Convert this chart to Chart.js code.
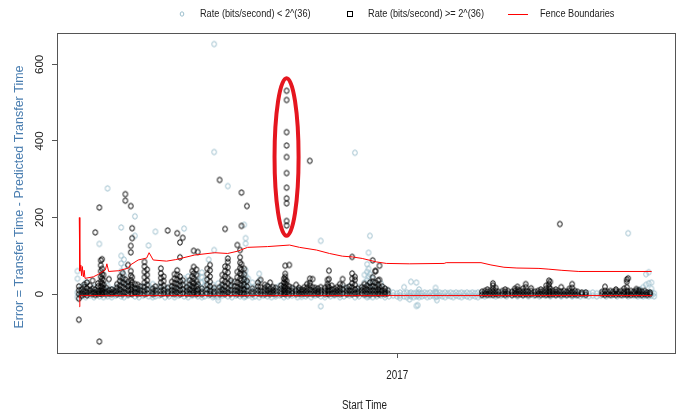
<!DOCTYPE html>
<html>
<head>
<meta charset="utf-8">
<script src="https://cdn.jsdelivr.net/npm/chart.js@4.4.1/dist/chart.umd.min.js"></script>
<style>
html, body { margin: 0; padding: 0; background: #fff; }
canvas { display: block; }
</style>
</head>
<body>
<canvas id="fenceChart" width="681" height="412"></canvas>
<script>
// start time = days from 1 Jan 2017, error = transfer time - predicted (s)
// each entry: [day, [errors recorded that day]]
const lowRate = [
  [-234, [-8, 4, 40, 60]], [-231, [-6, 2, 20]], [-228, [-8, 6, 30]], [-225, [-4, 10]],
  [-222, [-8, 4, 18]], [-218, [-6, 6, 131]], [-215, [-8, 2, 14]], [-212, [-6, 8, 22, 276]],
  [-209, [-8, 4, 12]], [-206, [-4, 8, 18]], [-202, [-6, 6, 20, 40, 60, 80, 100, 174]],
  [-200, [-8, 4, 30, 50, 70, 90]], [-197, [-4, 10, 24]], [-192, [-6, 6, 16, 152, 203]],
  [-189, [-8, 4, 12]], [-186, [-4, 8, 20]], [-182, [-6, 6, 22, 127]], [-179, [-8, 2, 12, 26]],
  [-177, [-6, 6, 163]], [-174, [-4, 10, 20]], [-170, [-8, 4, 14]], [-167, [-6, 6, 18]],
  [-163, [-8, 2, 12]], [-160, [-4, 10, 26]], [-156, [-6, 6, 20, 40, 171]], [-153, [-8, 4, 16, 30, 46]],
  [-150, [-4, 8, 18]], [-146, [-6, 6, 20, 34, 48]], [-143, [-8, 4, 16, 30, 44, 56]],
  [-141, [-6, 10, 22, 36]], [-138, [-4, 6, 18, 90]], [-135, [-8, 4, 12, 24]],
  [-134, [-6, 8, 115, 371, 653]], [-131, [-16, -8, 2, 14, 28]], [-128, [-4, 8, 20]],
  [-124, [-6, 6, 282]], [-121, [-8, 4, 16, 30]], [-118, [-4, 10]], [-115, [-6, 6, 18]],
  [-112, [-8, 4, 14, 28, 42, 181]], [-111, [-6, 8, 20, 34, 48, 62, 132, 146]],
  [-109, [-4, 10, 24, 40]], [-106, [-8, 6, 18, 30]], [-104, [-6, 4, 14]], [-101, [-8, 8, 35, 53]],
  [-98, [-4, 6]], [-95, [-6, 10, 20]], [-92, [-8, 4]], [-89, [-6, 8, 16]], [-86, [-4, 6, 22]],
  [-83, [-8, 4, 12]], [-80, [-6, 8]], [-77, [-4, 6, 14]], [-73, [-8, 4, 12]], [-70, [-7, 8]],
  [-67, [-6, 4]], [-63, [-8, 6]], [-60, [-4, 10]], [-56, [-32, -6, 6, 139]], [-53, [-8, 4]],
  [-49, [-6, 8]], [-46, [-4, 6]], [-42, [-8, 4]], [-39, [-6, 8, 16]], [-35, [-4, 6, 20]],
  [-31, [-8, 4, 369]], [-28, [-6, 8, 18]], [-24, [-4, 10, 30, 50]], [-22, [-8, 6, 36, 58, 78]],
  [-21, [-6, 20, 45, 66, 108]], [-20, [-4, 12, 30, 52, 152]], [-18, [-8, 6, 24, 40]],
  [-15, [-6, 8, 20]], [-12, [-4, 6, 28]], [-9, [-8, 4, 14]], [-6, [-6, 8]], [-3, [-4, 4]],
  [0, [-6, 2]], [2, [-10, -4, 4]], [5, [-6, 2, 18]], [7, [-8, 4]], [9, [-14, -4, 2]],
  [10, [-6, 4, 32]], [12, [-8, 2]], [14, [-31, -6, 4, 30]], [15, [-29, -4, 2]], [16, [-8, 4, 12]],
  [18, [-6, 2]], [20, [-4, 4]], [22, [-8, 2]], [24, [-6, 4]], [26, [-4, 2]], [28, [-8, 4, 6, 16]],
  [29, [-16, -6, 2]], [31, [-4, 4]], [33, [-6, 2]], [35, [-8, 4]], [37, [-4, 2]], [39, [-6, 4]],
  [41, [-8, 2]], [43, [-4, 4]], [45, [-6, 2]], [47, [-8, 4]], [49, [-4, 2]], [51, [-6, 4]],
  [53, [-8, 2]], [55, [-4, 4]], [57, [-6, 2]], [59, [-8, 4]], [61, [-4, 2]],
  [64, [-6, 2]], [68, [-4, 4]], [72, [-6, 2]], [76, [-4, 4]], [80, [-6, 2]], [84, [-4, 4]],
  [88, [-6, 2]], [92, [-4, 4]], [96, [-6, 2]], [100, [-4, 4]], [104, [-6, 2]], [108, [-4, 4]],
  [112, [-6, 2]], [116, [-4, 4]], [120, [-6, 2]], [124, [-4, 4]], [128, [-6, 2]], [131, [-4, 4]],
  [134, [-6, 2]], [137, [-4, 4]], [140, [-6, 2]], [143, [-4, 4]], [146, [-6, 2]], [149, [-4, 4]],
  [153, [-6, 2]], [157, [-4, 4]], [161, [-6, 2]], [165, [-4, 4]], [169, [-6, 2, 159]],
  [173, [-4, 4]], [176, [-6, 2, 10]], [178, [-4, 4, 12]], [180, [-6, 2, 18]],
  [182, [-4, 4, 24, 52]], [184, [-6, 2, 28, 57]], [186, [-4, 4, 14, 30]], [188, [-6, 2]]
];

const highRate = [
  [-233, [-67, -12, 0, 10, 20]], [-231, [-4, 3, 12]], [-229, [0, 8, 18, 25]], [-227, [-3, 5, 15, 30]],
  [-225, [2, 10, 22]], [-223, [0, 6, 14, 35]], [-221, [-2, 4, 12, 161]], [-219, [0, 8, 20, 28]],
  [-218, [-124, 3, 226]],
  [-217, [2, 10, 20, 32, 45, 60, 75, 88]], [-216, [0, 8, 18, 28, 40, 52, 66, 91]],
  [-215, [4, 14, 24, 36, 50]], [-213, [0, 6, 16]],
  [-211, [2, 10, 39]], [-209, [0, 5, 12]], [-207, [3, 8]],
  [-205, [0, 8, 16, 26]], [-203, [2, 12, 22, 34, 45]], [-201, [0, 6, 18, 30, 42, 55]],
  [-199, [4, 14, 26, 38, 244, 261]], [-197, [0, 10, 20, 32, 76]],
  [-195, [2, 12, 24, 36, 48, 60, 109, 126, 230]], [-194, [0, 8, 18, 30, 44, 146, 172]],
  [-192, [4, 14, 26]], [-190, [0, 6, 14, 24]], [-188, [2, 10, 20]],
  [-185, [0, 8, 18, 30, 44, 58, 72, 84]], [-183, [2, 12, 24, 36, 50, 64]],
  [-179, [0, 6, 14]], [-177, [2, 10, 20]],
  [-173, [0, 8, 18, 30, 42, 54, 67]], [-171, [2, 10, 22, 34, 46]], [-168, [0, 6, 16, 166]],
  [-165, [2, 10, 20, 32]], [-163, [0, 8, 18, 28, 40, 52]], [-161, [4, 14, 26, 38, 50, 62, 159]],
  [-159, [0, 10, 22, 34, 46, 96, 135]], [-157, [2, 12, 24, 36, 147]],
  [-154, [0, 8, 18]], [-152, [2, 12, 24, 36]], [-150, [0, 10, 20, 32, 46, 60]],
  [-149, [4, 16, 28, 40, 54, 71, 113]], [-147, [0, 8, 20, 34, 50, 64]], [-146, [2, 12, 26, 110]],
  [-143, [0, 6, 14]], [-139, [2, 12, 24, 38, 52, 66]], [-137, [0, 8, 20, 32, 46, 62, 76]],
  [-134, [0, 6, 16]],
  [-130, [0, 8, 18, 298]], [-128, [2, 12, 24, 36, 50]], [-126, [0, 8, 20, 32, 46, 60, 72, 170]],
  [-124, [4, 14, 28, 42, 56, 70, 84, 93]], [-122, [0, 10, 22, 36]],
  [-119, [2, 10, 20, 32]], [-117, [0, 8, 18, 30, 44, 58, 128]],
  [-115, [4, 14, 26, 40, 54, 68, 82, 96, 115]], [-114, [0, 10, 22, 36, 50, 64, 78, 178, 265]],
  [-112, [2, 12, 24, 38, 52, 66]], [-110, [0, 8, 20, 34, 230]],
  [-106, [0, 6, 14]], [-102, [2, 10, 20, 30]], [-100, [0, 8, 18, 37]],
  [-97, [0, 8, 16, 24]], [-95, [2, 10, 21]], [-93, [0, 6, 14, 30]], [-91, [2, 10, 18]], [-89, [0, 8, 16]],
  [-85, [0, 6, 14, 22]], [-83, [2, 10, 20, 30, 40]], [-82, [0, 8, 18, 28, 38, 45, 53, 74]],
  [-81, [4, 14, 24, 34, 179, 191, 237, 250, 278, 316, 358, 388, 423, 507, 531]],
  [-79, [0, 10, 20, 76]], [-77, [2, 8, 16]],
  [-74, [0, 8, 24]], [-72, [2, 10, 16]], [-70, [0, 6, 12]],
  [-68, [2, 10, 18]], [-66, [0, 8, 16, 26]], [-64, [2, 12, 22, 29, 40, 348]], [-62, [0, 8, 18, 39]],
  [-60, [2, 10, 16]], [-58, [0, 6, 14]], [-56, [2, 10, 18]],
  [-53, [0, 8, 16]], [-51, [2, 10, 20, 26, 37]], [-50, [0, 8, 18, 39, 61]], [-48, [2, 12, 22]],
  [-46, [0, 6, 14]], [-44, [2, 10, 18]], [-42, [0, 8, 16, 26]], [-40, [2, 12, 24, 39]],
  [-37, [0, 8, 16]], [-35, [2, 10, 20]], [-33, [0, 8, 18, 28, 40, 54, 97]], [-31, [2, 12, 24, 37, 45]],
  [-29, [0, 6, 14]], [-26, [2, 10, 18]], [-24, [0, 8, 16, 26]], [-22, [2, 12, 22]],
  [-20, [0, 8, 18, 30]], [-18, [2, 10, 20, 32, 44, 88]], [-16, [0, 8, 18, 30, 59, 61]],
  [-14, [2, 12, 24, 36]], [-13, [0, 8, 18, 37, 74]], [-11, [2, 10, 20]], [-9, [0, 6, 14]], [-7, [2, 10]],
  [62, [-2, 6]], [64, [0, 8]], [66, [-2, 6, 12]], [68, [0, 8]], [70, [-2, 6, 14, 22, 28]],
  [72, [0, 8, 16]], [74, [-2, 6]], [77, [0, 8]], [79, [-2, 6, 12]], [81, [0, 8]], [84, [-2, 6]],
  [86, [0, 8, 14]], [88, [-2, 6, 12, 19]], [90, [0, 8]], [92, [-2, 6, 14]], [94, [0, 8, 18, 26]],
  [96, [-2, 6]], [98, [0, 8, 15]], [101, [-2, 6]], [103, [0, 8]], [105, [-2, 6, 12]], [107, [0, 8]],
  [109, [-2, 6, 14, 22]], [111, [0, 8, 18, 26, 35]], [112, [-2, 6, 14, 32]], [114, [0, 8]],
  [116, [-2, 6, 12]], [118, [0, 8]], [119, [183]], [120, [-2, 6, 18]], [122, [0, 8]], [124, [-2, 6]],
  [126, [0, 8, 14]], [128, [-2, 6, 16, 26]], [130, [0, 8]], [132, [-2, 6]], [135, [0, 4]], [138, [-2, 4]],
  [150, [0, 6]], [152, [-2, 8, 19]], [154, [0, 6]], [156, [-2, 8]], [158, [0, 6]], [160, [-2, 8, 12]],
  [162, [0, 6]], [164, [-2, 8]], [166, [0, 6, 14]], [168, [-2, 8, 18, 32, 38]], [169, [0, 6, 41]],
  [171, [-2, 8]], [173, [0, 6]], [175, [-2, 8, 13]], [177, [0, 6, 10]], [179, [-2, 6]],
  [181, [0, 8]], [183, [-2, 4]], [185, [0, 4]]
];

const fenceDays = [-232.7, -232.3, -231.6, -231.0, -230.5, -229.7, -229.1, -228.5, -222.4, -218.5,
  -213.6, -212.5, -211.2, -203.9, -196.6, -195.3, -189.6, -183.4, -181.6, -178.6, -168.8, -162.1,
  -148.2, -133.6, -124.1, -116.8, -109.5, -94.9, -78.8, -71.5, -59.1, -49.6, -40.2, -32.9, -25.6,
  -15.3, -8.0, 8.8, 34.3, 35.8, 61.3, 68.6, 78.1, 87.6, 103.7, 111.0, 120.5, 132.9, 186.2];
const fenceUpper = [200, 60, 76, 48, 72, 45, 62, 41, 45, 52, 63, 79, 59, 61, 68, 76, 89, 94, 108, 89,
  86, 90, 102, 108, 106, 112, 122, 124, 128, 122, 115, 106, 99, 97, 93, 84, 80, 79, 80, 82, 82, 76,
  70, 68, 67, 65, 62, 59, 59];
const fenceLower = [-33, -4, -4, -4, -4, -4, -4, -4, -4, -4, -4, -4, -4, -4, -4, -4, -4, -4, -4, -4,
  -4, -4, -4, -4, -4, -4, -4, -4, -4, -4, -4, -4, -4, -4, -4, -4, -4, -4, -4, -4, -4, -4, -4, -4,
  -4, -4, -4, -4, -4];

const yTicks = [0, 200, 400, 600];
const xTicks = [0];
const xTickLabels = ['2017'];
const xTitle = 'Start Time';
const yTitle = 'Error = Transfer Time - Predicted Transfer Time';
const legendLabels = ['Rate (bits/second) < 2^(36)', 'Rate (bits/second) >= 2^(36)', 'Fence Boundaries'];
// ring around the cluster of large errors: centre day, centre error, half-width (days), half-height
const outlierRing = [-81, 358, 8.8, 206];

const BLUE = '#9dbfcd';
const SANS = '"Liberation Sans", Arial, sans-serif';
const SQUEEZE = 0.82; // horizontal text is drawn condensed

function toPoints(cols) {
  const pts = [];
  cols.forEach(([d, errs]) => errs.forEach(e => pts.push({ x: d, y: e })));
  return pts;
}

// R-style open circle marker
function ring(color) {
  const c = document.createElement('canvas');
  c.width = 8; c.height = 9;
  const g = c.getContext('2d');
  g.strokeStyle = color;
  g.lineWidth = 1;
  g.beginPath();
  g.ellipse(4, 4.5, 2.3, 2.7, 0, 0, Math.PI * 2);
  g.stroke();
  return c;
}

// condensed text, anchored at (x, y)
function narrowText(ctx, text, x, y, align) {
  ctx.save();
  ctx.translate(x, y);
  ctx.scale(SQUEEZE, 1);
  ctx.textAlign = align;
  ctx.fillText(text, 0, 0);
  ctx.restore();
}

const decorations = {
  id: 'decorations',
  afterDatasetsDraw(chart) {
    const { ctx, chartArea: a, scales: { x, y } } = chart;
    ctx.save();

    const [cd, ce, hw, hh] = outlierRing;
    const cx = x.getPixelForValue(cd), cy = y.getPixelForValue(ce);
    ctx.strokeStyle = '#e5161f';
    ctx.lineWidth = 4;
    ctx.beginPath();
    ctx.ellipse(cx, cy, x.getPixelForValue(cd + hw) - cx, cy - y.getPixelForValue(ce + hh), 0, 0, Math.PI * 2);
    ctx.stroke();

    // plot frame
    ctx.strokeStyle = '#555';
    ctx.lineWidth = 1;
    ctx.strokeRect(Math.round(a.left) + 0.5, Math.round(a.top) + 0.5,
      Math.round(a.right - a.left) - 1, Math.round(a.bottom - a.top));

    // y tick labels and title, parallel to the axis
    ctx.fillStyle = '#222';
    ctx.font = '11.5px ' + SANS;
    ctx.textAlign = 'center';
    ctx.textBaseline = 'middle';
    yTicks.forEach(v => {
      ctx.save();
      ctx.translate(40, y.getPixelForValue(v));
      ctx.rotate(-Math.PI / 2);
      ctx.fillText(String(v), 0, 0);
      ctx.restore();
    });
    ctx.save();
    ctx.fillStyle = '#4a7eb0';
    ctx.font = '12.5px ' + SANS;
    ctx.translate(20, (a.top + a.bottom) / 2 + 4);
    ctx.rotate(-Math.PI / 2);
    ctx.fillText(yTitle, 0, 0);
    ctx.restore();

    // x tick labels and title
    ctx.font = '12px ' + SANS;
    xTicks.forEach((v, i) => narrowText(ctx, xTickLabels[i], x.getPixelForValue(v), 376, 'center'));
    narrowText(ctx, xTitle, (a.left + a.right) / 2 - 2, 406, 'center');

    // legend
    const ly = 14;
    ctx.font = '11.2px ' + SANS;
    ctx.lineWidth = 1;
    ctx.strokeStyle = BLUE;
    ctx.beginPath();
    ctx.ellipse(182, ly, 1.8, 2.2, 0, 0, Math.PI * 2);
    ctx.stroke();
    narrowText(ctx, legendLabels[0], 200, ly, 'left');
    ctx.strokeStyle = '#000';
    ctx.strokeRect(347.5, ly - 2.5, 5, 5);
    narrowText(ctx, legendLabels[1], 368, ly, 'left');
    ctx.strokeStyle = '#ff0000';
    ctx.beginPath();
    ctx.moveTo(508, ly + 0.5);
    ctx.lineTo(528, ly + 0.5);
    ctx.stroke();
    narrowText(ctx, legendLabels[2], 540, ly, 'left');

    ctx.restore();
  }
};

new Chart('fenceChart', {
  type: 'scatter',
  data: {
    datasets: [
      {
        label: legendLabels[2],
        data: fenceDays.map((d, i) => ({ x: d, y: fenceUpper[i] })),
        showLine: true, borderColor: '#ff0000', borderWidth: 1, pointRadius: 0, order: 0
      },
      {
        label: legendLabels[2],
        data: fenceDays.map((d, i) => ({ x: d, y: fenceLower[i] })),
        showLine: true, borderColor: '#ff0000', borderWidth: 1, pointRadius: 0, order: 0
      },
      {
        label: legendLabels[1],
        data: toPoints(highRate),
        pointStyle: ring('#000'), pointRadius: 3, order: 1
      },
      {
        label: legendLabels[0],
        data: toPoints(lowRate),
        pointStyle: ring(BLUE), pointRadius: 3, order: 2
      }
    ]
  },
  options: {
    responsive: false,
    animation: false,
    events: [],
    layout: { padding: { top: 33, right: 3, left: 0, bottom: 0 } },
    plugins: { legend: { display: false }, tooltip: { enabled: false } },
    scales: {
      x: {
        type: 'linear',
        min: -249, max: 204,
        afterBuildTicks: s => { s.ticks = xTicks.map(v => ({ value: v })); },
        afterFit: s => { s.height = 59; },
        grid: { display: true, drawOnChartArea: false, drawTicks: true, tickLength: 5, color: '#555' },
        border: { display: false },
        ticks: { display: false }
      },
      y: {
        type: 'linear',
        min: -154, max: 682,
        afterBuildTicks: s => { s.ticks = yTicks.map(v => ({ value: v })); },
        afterFit: s => { s.width = 57; },
        grid: { display: true, drawOnChartArea: false, drawTicks: true, tickLength: 5, color: '#555' },
        border: { display: false },
        ticks: { display: false }
      }
    }
  },
  plugins: [decorations]
});
</script>
</body>
</html>
